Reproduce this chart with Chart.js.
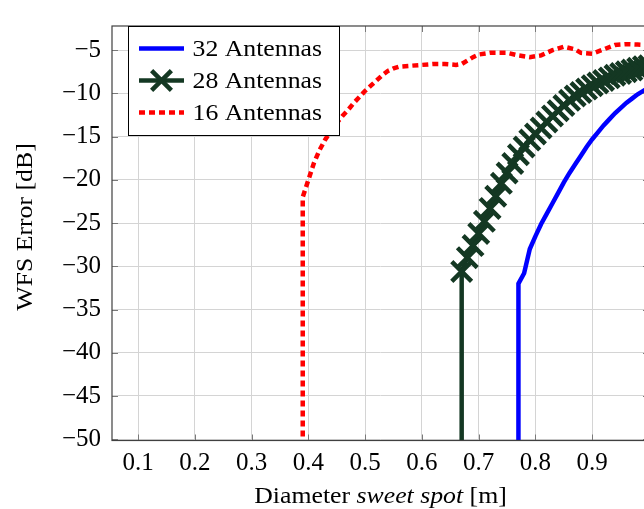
<!DOCTYPE html>
<html>
<head>
<meta charset="utf-8">
<script src="https://cdn.jsdelivr.net/npm/chart.js@4"></script>
<style>
  html, body { margin: 0; padding: 0; background: #fff; overflow: hidden; }
  #wrap { width: 680px; height: 509px; }
</style>
</head>
<body>
<div id="wrap"><canvas id="chartCanvas"></canvas></div>
<script>
// tick positions
const xTicks = [0.1, 0.2, 0.3, 0.4, 0.5, 0.6, 0.7, 0.8, 0.9];
const yTicks = [-50, -45, -40, -35, -30, -25, -20, -15, -10, -5];

// 32 antennas
const x32 = [0.77, 0.77, 0.78, 0.79, 0.80, 0.81, 0.82, 0.83, 0.84, 0.85, 0.86, 0.87, 0.88, 0.89, 0.90, 0.91, 0.92, 0.93, 0.94, 0.95, 0.96, 0.97, 0.98, 0.99, 1.00];
const y32 = [-52, -32.0, -30.8, -28.0, -26.5, -25.1, -23.9, -22.7, -21.5, -20.3, -19.2, -18.2, -17.2, -16.2, -15.3, -14.5, -13.7, -13.0, -12.3, -11.7, -11.1, -10.6, -10.1, -9.7, -9.3];

// 28 antennas
const x28 = [0.67, 0.67, 0.68, 0.69, 0.70, 0.71, 0.72, 0.73, 0.74, 0.75, 0.76, 0.77, 0.78, 0.79, 0.80, 0.81, 0.82, 0.83, 0.84, 0.85, 0.86, 0.87, 0.88, 0.89, 0.90, 0.91, 0.92, 0.93, 0.94, 0.95, 0.96, 0.97, 0.98, 0.99, 1.00];
const y28 = [-52, -30.6, -29.0, -27.6, -26.2, -24.8, -23.3, -21.9, -20.4, -19.2, -18.1, -17.1, -16.2, -15.4, -14.7, -14.0, -13.3, -12.6, -12.0, -11.4, -10.8, -10.3, -9.9, -9.5, -9.1, -8.8, -8.5, -8.2, -7.9, -7.7, -7.5, -7.3, -7.1, -6.9, -6.8];

// 16 antennas
const x16 = [0.39, 0.39, 0.395, 0.40, 0.41, 0.42, 0.43, 0.44, 0.45, 0.46, 0.47, 0.48, 0.49, 0.50, 0.51, 0.52, 0.53, 0.54, 0.55, 0.56, 0.58, 0.60, 0.62, 0.64, 0.66, 0.67, 0.68, 0.69, 0.70, 0.72, 0.75, 0.77, 0.79, 0.81, 0.83, 0.85, 0.87, 0.88, 0.90, 0.92, 0.94, 0.96, 0.98, 1.00];
const y16 = [-52, -22.0, -21.0, -20.0, -18.0, -16.5, -15.3, -14.3, -13.4, -12.6, -11.9, -11.1, -10.4, -9.7, -9.1, -8.5, -7.9, -7.4, -7.1, -6.9, -6.8, -6.7, -6.6, -6.6, -6.7, -6.6, -6.2, -5.8, -5.5, -5.3, -5.3, -5.6, -5.8, -5.6, -5.0, -4.6, -4.9, -5.3, -5.4, -4.9, -4.4, -4.3, -4.35, -4.4];

const pts = (xs, ys) => xs.map((x, i) => ({ x: x, y: ys[i] }));
const fmtMinus = v => v < 0 ? '\u2212' + Math.abs(v) : String(v);
const serif = "'Liberation Serif', serif";
const STRETCH = 1.12;

function stretchText(ctx, txt, x, y, align) {
    const w = ctx.measureText(txt).width * STRETCH;
    let x0 = x;
    if (align === 'center') x0 = x - w / 2;
    if (align === 'right') x0 = x - w;
    ctx.save();
    ctx.translate(x0, y);
    ctx.scale(STRETCH, 1);
    ctx.textAlign = 'left';
    ctx.fillText(txt, 0, 0);
    ctx.restore();
    return w;
}

const framePlugin = {
    id: 'frame',
    afterDatasetsDraw(chart) {
        const ctx = chart.ctx;
        const a = chart.chartArea;
        const xs = chart.scales.x, ys = chart.scales.y;
        ctx.save();
        // inward ticks
        ctx.strokeStyle = '#7a7a7a';
        ctx.lineWidth = 1;
        ctx.beginPath();
        xTicks.forEach(v => {
            const px = Math.round(xs.getPixelForValue(v)) + 0.5;
            ctx.moveTo(px, a.bottom); ctx.lineTo(px, a.bottom - 6);
            ctx.moveTo(px, a.top); ctx.lineTo(px, a.top + 6);
        });
        yTicks.forEach(v => {
            const py = Math.round(ys.getPixelForValue(v)) + 0.5;
            ctx.moveTo(a.left, py); ctx.lineTo(a.left + 6, py);
            ctx.moveTo(a.right, py); ctx.lineTo(a.right - 6, py);
        });
        ctx.stroke();
        // frame
        ctx.strokeStyle = '#404040';
        ctx.lineWidth = 1.2;
        ctx.strokeRect(a.left, a.top, a.right - a.left, a.bottom - a.top);
        ctx.restore();
    },
    afterDraw(chart) {
        const ctx = chart.ctx;
        ctx.save();
        ctx.fillStyle = '#000';
        ctx.textBaseline = 'middle';

        // x title with italic part
        const parts = [
            ['Diameter ', 'normal'],
            ['sweet spot', 'italic'],
            [' [m]', 'normal']
        ];
        let total = 0;
        parts.forEach(p => { ctx.font = p[1] + ' 23px ' + serif; total += ctx.measureText(p[0]).width * STRETCH; });
        let cx = 380.5 - total / 2;
        parts.forEach(p => {
            ctx.font = p[1] + ' 23px ' + serif;
            cx += stretchText(ctx, p[0], cx, 497, 'left');
        });

        // y title
        ctx.save();
        ctx.translate(25.5, 227);
        ctx.rotate(-Math.PI / 2);
        ctx.font = '23px ' + serif;
        stretchText(ctx, 'WFS Error [dB]', 0, 0, 'center');
        ctx.restore();

        // legend
        const bx = 128.5, by = 26.5, bw = 211, bh = 109;
        ctx.fillStyle = '#fff';
        ctx.fillRect(bx, by, bw, bh);
        ctx.strokeStyle = '#000';
        ctx.lineWidth = 1;
        ctx.strokeRect(bx, by, bw, bh);
        const rows = [48.5, 80.5, 112.5];
        chart.data.datasets.forEach((ds, i) => {
            const y = rows[i];
            ctx.save();
            ctx.strokeStyle = ds.borderColor;
            ctx.lineWidth = ds.borderWidth;
            ctx.setLineDash(ds.borderDash || []);
            ctx.beginPath();
            ctx.moveTo(139, y); ctx.lineTo(184, y);
            ctx.stroke();
            ctx.setLineDash([]);
            if (ds.legendMarker) {
                const r = ds.legendMarker * Math.SQRT1_2;
                ctx.lineWidth = ds.pointBorderWidth;
                ctx.beginPath();
                ctx.moveTo(161.5 - r, y - r); ctx.lineTo(161.5 + r, y + r);
                ctx.moveTo(161.5 - r, y + r); ctx.lineTo(161.5 + r, y - r);
                ctx.stroke();
            }
            ctx.restore();
            ctx.fillStyle = '#000';
            ctx.font = '23px ' + serif;
            stretchText(ctx, ds.label, 192.5, y + 1, 'left');
        });
        ctx.restore();
    }
};

const green = '#143823';

function drawChart() {
    new Chart(document.getElementById('chartCanvas').getContext('2d'), {
        type: 'line',
        data: {
            datasets: [
                {
                    label: '32 Antennas',
                    data: pts(x32, y32),
                    borderColor: '#0000ff',
                    borderWidth: 4.5,
                    pointRadius: 0,
                    tension: 0,
                    clip: 0
                },
                {
                    label: '28 Antennas',
                    data: pts(x28, y28),
                    borderColor: green,
                    borderWidth: 4.5,
                    pointStyle: 'crossRot',
                    pointRadius: c => c.dataIndex === 0 ? 0 : 14,
                    pointBorderColor: green,
                    pointBorderWidth: 4.5,
                    legendMarker: 14,
                    tension: 0,
                    clip: 0
                },
                {
                    label: '16 Antennas',
                    data: pts(x16, y16),
                    borderColor: '#ff0000',
                    borderWidth: 4.5,
                    borderDash: [6, 4],
                    borderCapStyle: 'butt',
                    pointRadius: 0,
                    tension: 0,
                    clip: 0
                }
            ]
        },
        options: {
            responsive: true,
            maintainAspectRatio: false,
            animation: false,
            devicePixelRatio: 1,
            layout: { padding: { top: 13, right: 31, left: 0, bottom: 0 } },
            plugins: {
                legend: { display: false },
                tooltip: { enabled: false }
            },
            scales: {
                x: {
                    type: 'linear',
                    min: 0.054,
                    max: 1.0,
                    afterBuildTicks: s => { s.ticks = xTicks.map(v => ({ value: v })); },
                    afterFit: s => { s.height = 68.5; },
                    grid: { color: '#d4d4d4', lineWidth: 1, drawTicks: false },
                    border: { display: false },
                    ticks: {
                        padding: 8,
                        color: '#000',
                        font: { family: serif, size: 25 },
                        maxRotation: 0,
                        autoSkip: false,
                        callback: v => v.toFixed(1)
                    }
                },
                y: {
                    type: 'linear',
                    min: -50.15,
                    max: -2.2,
                    afterBuildTicks: s => { s.ticks = yTicks.map(v => ({ value: v })); },
                    afterFit: s => { s.width = 112; },
                    grid: { color: '#d4d4d4', lineWidth: 1, drawTicks: false },
                    border: { display: false },
                    ticks: {
                        padding: 11,
                        color: '#000',
                        font: { family: serif, size: 25 },
                        autoSkip: false,
                        callback: v => fmtMinus(v)
                    }
                }
            }
        },
        plugins: [framePlugin]
    });
}

Promise.all([
    document.fonts.load("23px 'Liberation Serif'"),
    document.fonts.load("italic 23px 'Liberation Serif'")
]).then(drawChart, drawChart);
</script>
</body>
</html>
